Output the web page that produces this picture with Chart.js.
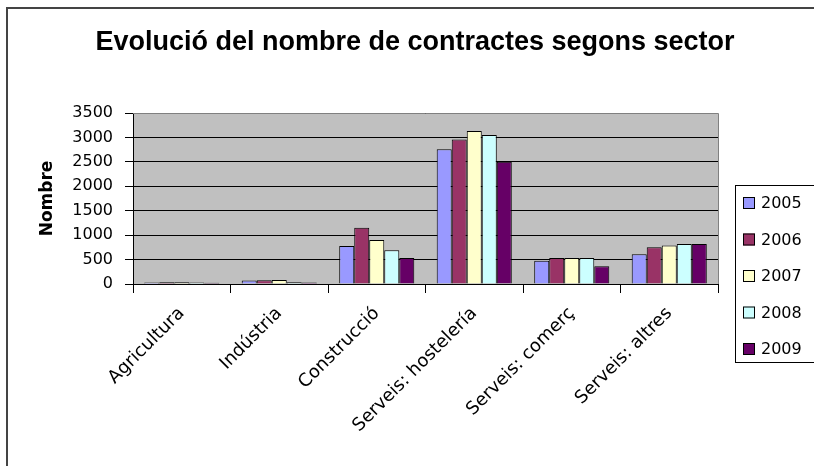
<!DOCTYPE html>
<html>
<head>
<meta charset="utf-8">
<script src="https://cdn.jsdelivr.net/npm/chart.js@4/dist/chart.umd.min.js"></script>
<style>
  body { margin: 0; background: #fff; }
</style>
</head>
<body>
<canvas id="myChart" width="814" height="466"></canvas>
<script>
const categories = ['Agricultura', 'Indústria', 'Construcció', 'Serveis: hostelería', 'Serveis: comerç', 'Serveis: altres'];
const years = ['2005', '2006', '2007', '2008', '2009'];
const values2005 = [30, 70, 780, 2760, 475, 610];
const values2006 = [35, 75, 1150, 2960, 530, 750];
const values2007 = [35, 80, 900, 3130, 530, 790];
const values2008 = [30, 35, 690, 3050, 530, 820];
const values2009 = [25, 30, 530, 2500, 365, 820];
const yTicks = [0, 500, 1000, 1500, 2000, 2500, 3000, 3500];
const chartTitle = 'Evolució del nombre de contractes segons sector';

const colors = ['#9999FF', '#993366', '#FFFFCC', '#CCFFFF', '#660066'];
const series = [values2005, values2006, values2007, values2008, values2009];

// grey plot background, title, frame round the whole chart and the boxed legend
const excelLook = {
    id: 'excelLook',
    beforeDraw(chart) {
        const ctx = chart.ctx;
        const a = chart.chartArea;
        ctx.save();
        ctx.fillStyle = '#fff';
        ctx.fillRect(0, 0, chart.width, chart.height);
        ctx.fillStyle = '#C0C0C0';
        ctx.fillRect(a.left, a.top, a.right - a.left, a.bottom - a.top);
        ctx.restore();
    },
    afterDraw(chart) {
        const ctx = chart.ctx;
        const a = chart.chartArea;
        ctx.save();
        // plot area top / right edge
        ctx.strokeStyle = '#808080';
        ctx.lineWidth = 1;
        ctx.beginPath();
        ctx.moveTo(a.left, a.top + 0.5);
        ctx.lineTo(a.right + 0.5, a.top + 0.5);
        ctx.lineTo(a.right + 0.5, a.bottom);
        ctx.stroke();

        // outer frame
        ctx.strokeStyle = '#444';
        ctx.lineWidth = 2;
        ctx.strokeRect(7, 8, chart.width + 20, chart.height + 20);

        // title, centred on the whole chart object (legend included)
        ctx.fillStyle = '#000';
        ctx.font = 'bold 27px "Liberation Sans", Arial';
        ctx.textAlign = 'center';
        ctx.textBaseline = 'middle';
        ctx.fillText(chartTitle, 415, 43);

        // legend
        ctx.textAlign = 'left';
        ctx.strokeStyle = '#000';
        ctx.lineWidth = 1;
        ctx.strokeRect(735.5, 185.5, 100, 177);
        ctx.font = '16px "DejaVu Sans"';
        chart.data.datasets.forEach(function (ds, i) {
            const y = 203 + i * 36.5;
            ctx.fillStyle = ds.backgroundColor;
            ctx.fillRect(743, y - 6, 12, 12);
            ctx.strokeRect(743.5, y - 5.5, 11, 11);
            ctx.fillStyle = '#000';
            ctx.fillText(ds.label, 761, y + 1);
        });
        ctx.restore();
    }
};

window.onload = function () {
    var ctx = document.getElementById('myChart').getContext('2d');

    const myChart = new Chart(ctx, {
        type: 'bar',
        data: {
            labels: categories,
            datasets: years.map(function (y, i) {
                return {
                    label: y,
                    data: series[i],
                    backgroundColor: colors[i],
                    borderColor: '#000',
                    borderWidth: 1,
                    categoryPercentage: 0.77,
                    barPercentage: 1.0
                };
            })
        },
        options: {
            responsive: false,
            animation: false,
            layout: {
                padding: { top: 113, left: 0, right: 96, bottom: 0 }
            },
            plugins: {
                legend: { display: false },
                tooltip: { enabled: false },
                title: { display: false }
            },
            scales: {
                y: {
                    min: 0,
                    max: 3500,
                    afterFit: function (scale) { scale.width = 133; },
                    afterBuildTicks: function (scale) {
                        scale.ticks = yTicks.map(function (v) { return { value: v }; });
                    },
                    ticks: {
                        color: '#000',
                        padding: 12,
                        font: { family: '"DejaVu Sans"', size: 16 },
                        callback: function (value) { return String(value); }
                    },
                    grid: {
                        color: '#000',
                        lineWidth: 1,
                        tickLength: 8
                    },
                    border: { color: '#000', width: 1 },
                    title: {
                        display: true,
                        text: 'Nombre',
                        color: '#000',
                        font: { family: '"DejaVu Sans"', size: 17, weight: 'bold' },
                        padding: { top: 37, bottom: 0 }
                    }
                },
                x: {
                    afterFit: function (scale) { scale.height = 182; },
                    ticks: {
                        color: '#000',
                        autoSkip: false,
                        minRotation: 45,
                        maxRotation: 45,
                        padding: 10,
                        font: { family: '"DejaVu Sans"', size: 18 }
                    },
                    grid: {
                        drawOnChartArea: false,
                        color: '#000',
                        tickLength: 9
                    },
                    border: { color: '#000', width: 1 }
                }
            }
        },
        plugins: [excelLook]
    });
};
</script>
</body>
</html>
